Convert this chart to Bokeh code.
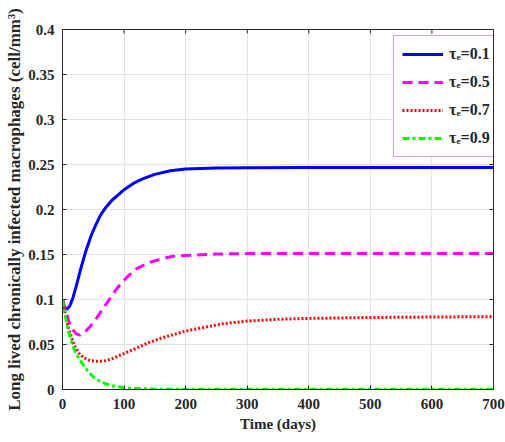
from bokeh.plotting import figure
from bokeh.models import Legend, LegendItem, FixedTicker
from bokeh.embed import file_html
from bokeh.resources import INLINE

# ---- data ----
t_blue = [0, 3, 7, 12, 17, 22, 30, 38, 46, 54, 62, 70, 80, 90, 100, 115, 130, 150, 175, 200, 250, 300, 400, 500, 600, 700]
v_blue = [0.100, 0.092, 0.089, 0.093, 0.102, 0.114, 0.135, 0.154, 0.170, 0.183, 0.194, 0.202, 0.210, 0.216, 0.222, 0.229, 0.234, 0.239, 0.243, 0.245, 0.246, 0.2465, 0.2467, 0.2467, 0.2467, 0.2467]

t_mag = [0, 5, 10, 16, 22, 28, 35, 45, 55, 65, 75, 85, 95, 105, 120, 140, 160, 180, 200, 250, 300, 400, 500, 600, 700]
v_mag = [0.100, 0.088, 0.076, 0.067, 0.062, 0.0605, 0.063, 0.070, 0.079, 0.089, 0.099, 0.109, 0.118, 0.125, 0.134, 0.141, 0.145, 0.148, 0.149, 0.1505, 0.151, 0.151, 0.151, 0.151, 0.151]

t_red = [0, 5, 10, 15, 20, 27, 35, 45, 55, 62, 70, 80, 90, 100, 120, 140, 160, 180, 200, 230, 260, 300, 350, 400, 500, 600, 700]
v_red = [0.100, 0.082, 0.068, 0.057, 0.048, 0.040, 0.035, 0.032, 0.0315, 0.0315, 0.032, 0.034, 0.037, 0.040, 0.046, 0.052, 0.057, 0.061, 0.065, 0.069, 0.073, 0.076, 0.078, 0.079, 0.080, 0.0805, 0.081]

t_grn = [0, 5, 10, 15, 20, 27, 35, 43, 50, 60, 70, 80, 90, 100, 120, 150, 200, 300, 400, 500, 600, 700]
v_grn = [0.100, 0.080, 0.064, 0.052, 0.043, 0.034, 0.026, 0.019, 0.014, 0.0095, 0.0063, 0.0042, 0.003, 0.002, 0.001, 0.0004, 0.0001, 0.0, 0.0, 0.0, 0.0, 0.0]

labels = ["τₑ=0.1", "τₑ=0.5", "τₑ=0.7", "τₑ=0.9"]
x_ticks = [0, 100, 200, 300, 400, 500, 600, 700]
y_ticks = [0, 0.05, 0.1, 0.15, 0.2, 0.25, 0.3, 0.35, 0.4]

FONT = "Liberation Serif"
AX = "#262626"
X0, X1, Y0, Y1 = 0, 700, 0, 0.4

p = figure(width=505, height=442, output_backend="svg", toolbar_location=None,
           x_range=(X0, X1), y_range=(Y0, Y1),
           min_border_left=62, min_border_right=12, min_border_top=29, min_border_bottom=53)
p.background_fill_color = "white"
p.border_fill_color = "white"
p.outline_line_color = AX
p.outline_line_width = 1

p.xgrid.grid_line_color = "#e3e3e3"
p.ygrid.grid_line_color = "#e3e3e3"
p.xgrid.ticker = FixedTicker(ticks=x_ticks)
p.ygrid.ticker = FixedTicker(ticks=y_ticks)

r1 = p.line(t_blue, v_blue, line_color="#0000FF", line_width=3)
r2 = p.line(t_mag, v_mag, line_color="#FF00FF", line_width=3, line_dash="10 6")
r3 = p.line(t_red, v_red, line_color="#FF0000", line_width=3, line_dash="2 2")
r4 = p.line(t_grn, v_grn, line_color="#00FF00", line_width=3, line_dash="7 3 3 3")

# inward ticks on the top and right edges (box style), tick length ~4px
dy = 4 * (Y1 - Y0) / 360.0
dx = 4 * (X1 - X0) / 431.0
p.segment(x0=x_ticks, y0=[Y1] * len(x_ticks), x1=x_ticks, y1=[Y1 - dy] * len(x_ticks),
          line_color=AX, line_width=1)
p.segment(x0=[X1] * len(y_ticks), y0=y_ticks, x1=[X1 - dx] * len(y_ticks), y1=y_ticks,
          line_color=AX, line_width=1)

for ax in (p.xaxis[0], p.yaxis[0]):
    ax.axis_line_color = AX
    ax.major_tick_line_color = AX
    ax.major_tick_in = 4
    ax.major_tick_out = 0
    ax.minor_tick_line_color = None
    ax.major_label_text_font = FONT
    ax.major_label_text_font_style = "bold"
    ax.major_label_text_font_size = "15px"
    ax.major_label_text_color = "#262626"
    ax.axis_label_text_font = FONT
    ax.axis_label_text_font_style = "bold"
    ax.axis_label_text_color = "#262626"

p.xaxis.ticker = FixedTicker(ticks=x_ticks)
p.yaxis.ticker = FixedTicker(ticks=y_ticks)
p.xaxis.major_label_standoff = 9
p.yaxis.major_label_standoff = 8
p.yaxis.major_label_overrides = {0: "0", 0.05: "0.05", 0.1: "0.1", 0.15: "0.15", 0.2: "0.2",
                                 0.25: "0.25", 0.3: "0.3", 0.35: "0.35", 0.4: "0.4"}
p.xaxis.axis_label = "Time (days)"
p.xaxis.axis_label_text_font_size = "15px"
p.xaxis.axis_label_standoff = 4
p.yaxis.axis_label = "Long lived chronically infected macrophages (cell/mm³)"
p.yaxis.axis_label_text_font_size = "17px"
p.yaxis.axis_label_standoff = 1

legend = Legend(items=[LegendItem(label=labels[0], renderers=[r1]),
                       LegendItem(label=labels[1], renderers=[r2]),
                       LegendItem(label=labels[2], renderers=[r3]),
                       LegendItem(label=labels[3], renderers=[r4])],
                location=(331, 232))
legend.border_line_color = "#C040C0"
legend.border_line_width = 1
legend.background_fill_color = "white"
legend.background_fill_alpha = 1
legend.label_text_font = FONT
legend.label_text_font_style = "bold"
legend.label_text_font_size = "16px"
legend.label_text_color = "#262626"
legend.glyph_width = 41
legend.glyph_height = 20
legend.label_height = 20
legend.label_standoff = 6
legend.spacing = 8
legend.padding = 8
legend.margin = 0
p.add_layout(legend)

open("out.html", "w").write(file_html(p, INLINE))
